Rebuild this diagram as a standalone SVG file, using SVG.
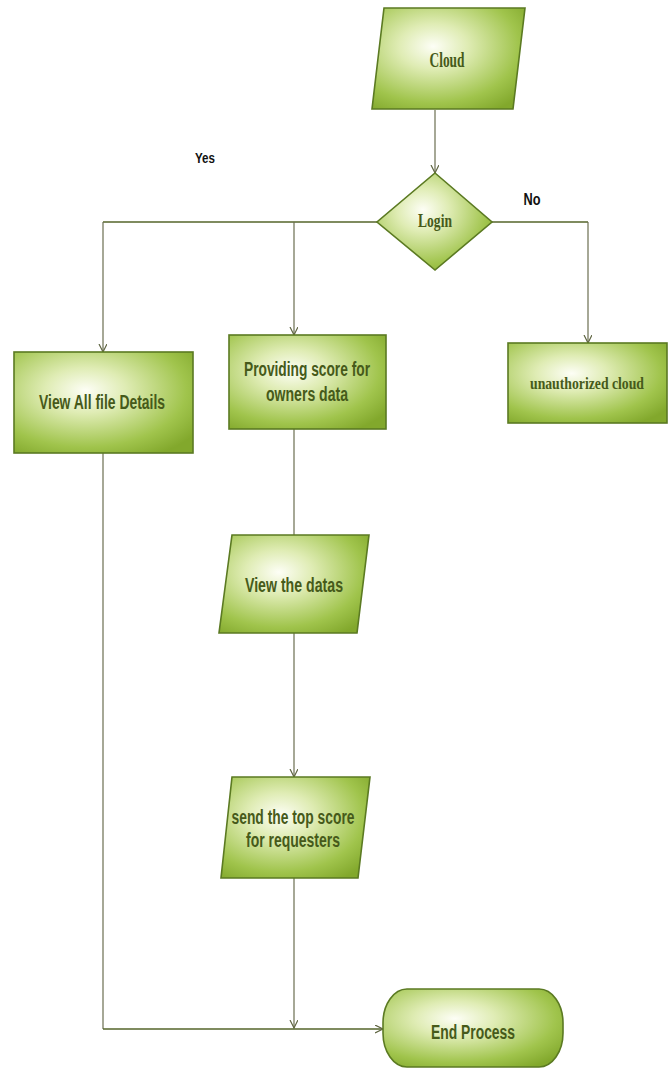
<svg xmlns="http://www.w3.org/2000/svg" width="671" height="1068" viewBox="0 0 671 1068">
<style>
.shape{fill:url(#g);stroke:#5b7a22;stroke-width:1.6}
.sans{font-family:"Liberation Sans",Arial,sans-serif;font-weight:bold;fill:#465a1a}
.serif{font-family:"Liberation Serif","Times New Roman",serif;font-weight:bold;fill:#465a1a}
.lbl{font-family:"Liberation Sans",Arial,sans-serif;font-weight:bold;fill:#111}
.c{fill:none;stroke:#6b6e50;stroke-width:1.2}
.h{fill:none;stroke:#55652a;stroke-width:1.6}
</style>
<defs>
<radialGradient id="g" cx="0.4" cy="0.38" r="0.75">
<stop offset="0" stop-color="#fdfef6"/>
<stop offset="0.3" stop-color="#dfecb4"/>
<stop offset="0.75" stop-color="#a0c44c"/>
<stop offset="1" stop-color="#82a82c"/>
</radialGradient>
<marker id="a" markerWidth="10" markerHeight="10" refX="8" refY="4" orient="auto" markerUnits="userSpaceOnUse">
<path d="M0,0 L8,4 L0,8" fill="none" stroke="#5e6440" stroke-width="1.2"/>
</marker>
</defs>
<g id="connectors">
<path class="c" d="M435,110 V173" marker-end="url(#a)"/>
<path class="h" d="M377,222 H103"/>
<path class="c" d="M103,222 V352" marker-end="url(#a)"/>
<path class="c" d="M294,222 V335" marker-end="url(#a)"/>
<path class="h" d="M492,222 H588"/>
<path class="c" d="M588,222 V343" marker-end="url(#a)"/>
<path class="c" d="M294,428 V535"/>
<path class="c" d="M294,633 V777" marker-end="url(#a)"/>
<path class="c" d="M294,878 V1028" marker-end="url(#a)"/>
<path class="c" d="M103,453 V1029"/>
<path class="h" d="M103,1029 H383" marker-end="url(#a)"/>
</g>
<g id="cloud">
<polygon class="shape" points="384,8 525,8 513,109 372,109"/>
<text class="serif" x="447" y="67" font-size="20" text-anchor="middle" textLength="35" lengthAdjust="spacingAndGlyphs">Cloud</text>
</g>
<g id="login">
<polygon class="shape" points="435,173 492,222 435,270 377,222"/>
<text class="serif" x="435" y="227" font-size="19" text-anchor="middle" textLength="34" lengthAdjust="spacingAndGlyphs">Login</text>
</g>
<text class="lbl" x="205" y="163" font-size="15" text-anchor="middle" textLength="20" lengthAdjust="spacingAndGlyphs">Yes</text>
<text class="lbl" x="532" y="205" font-size="16" text-anchor="middle" textLength="17" lengthAdjust="spacingAndGlyphs">No</text>
<g id="view-all">
<rect class="shape" x="14" y="352" width="179" height="101"/>
<text class="sans" x="102" y="409" font-size="20" text-anchor="middle" textLength="126" lengthAdjust="spacingAndGlyphs">View All file Details</text>
</g>
<g id="providing">
<rect class="shape" x="229" y="335" width="157" height="94"/>
<text class="sans" x="307" y="376" font-size="20" text-anchor="middle" textLength="126" lengthAdjust="spacingAndGlyphs">Providing score for</text>
<text class="sans" x="307" y="401" font-size="20" text-anchor="middle" textLength="82" lengthAdjust="spacingAndGlyphs">owners data</text>
</g>
<g id="unauthorized">
<rect class="shape" x="508" y="343" width="159" height="80"/>
<text class="serif" x="587" y="389" font-size="17" text-anchor="middle" textLength="114" lengthAdjust="spacingAndGlyphs">unauthorized cloud</text>
</g>
<g id="view-datas">
<polygon class="shape" points="232,535 369,535 357,633 219,633"/>
<text class="sans" x="294" y="592" font-size="20" text-anchor="middle" textLength="98" lengthAdjust="spacingAndGlyphs">View the datas</text>
</g>
<g id="send">
<polygon class="shape" points="232,777 370,777 358,878 221,878"/>
<text class="sans" x="293" y="824" font-size="20" text-anchor="middle" textLength="123" lengthAdjust="spacingAndGlyphs">send the top score</text>
<text class="sans" x="293" y="847" font-size="20" text-anchor="middle" textLength="94" lengthAdjust="spacingAndGlyphs">for requesters</text>
</g>
<g id="end">
<rect class="shape" x="383" y="989" width="180" height="78" rx="24" ry="34"/>
<text class="sans" x="473" y="1039" font-size="20" text-anchor="middle" textLength="84" lengthAdjust="spacingAndGlyphs">End Process</text>
</g>
</svg>
